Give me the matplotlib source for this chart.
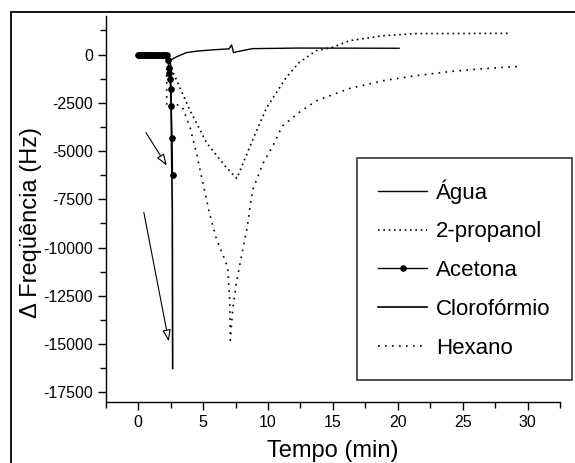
import numpy as np
import matplotlib
matplotlib.use('Agg')
import matplotlib.pyplot as plt
from matplotlib.patches import Rectangle

plt.rcParams['font.family'] = ['Liberation Sans', 'DejaVu Sans']
plt.rcParams['axes.unicode_minus'] = False

# Água
agua_t = [0, 1.0, 2.2, 2.3, 3.0, 3.7, 4.5, 5.8, 7.0, 7.2, 7.35, 7.6, 8.8, 12.4, 20.1]
agua_f = [0, 0, 0, -350, -100, 100, 180, 250, 300, 500, 100, 150, 310, 340, 330]

# 2-propanol
prop_t = [0, 2.2, 2.7, 4.0, 5.3, 6.8, 7.6, 8.8, 9.9, 11.4, 12.4, 13.7, 14.9, 16.3, 18.9, 21.4, 28.7]
prop_f = [0, 0, -930, -2900, -4600, -5850, -6420, -4450, -2750, -1190, -410, 200, 360, 725, 980, 1090, 1100]

# Acetona
acet_t = [0, 0.1, 0.2, 0.3, 0.4, 0.5, 0.6, 0.7, 0.8, 0.9, 1.0, 1.1, 1.2, 1.3, 1.4, 1.5, 1.6, 1.7,
          1.8, 1.9, 2.0, 2.1, 2.2, 2.3, 2.35, 2.4, 2.45, 2.5, 2.55, 2.6, 2.65]
acet_f = [0, 0, 0, 0, 0, 0, 0, 0, 0, 0, 0, 0, 0, 0, 0, 0, 0, 0,
          0, 0, 0, 0, 0, -300, -670, -930, -1240, -1760, -2640, -4300, -6220]

# Clorofórmio
clor_t = [0, 2.2, 2.5, 2.63, 2.66]
clor_f = [0, 0, -500, -8000, -16260]

# Hexano
hex_t = [0, 2.2, 2.2, 3.0, 3.4, 4.0, 4.5, 5.0, 5.5, 6.0, 6.6, 6.9, 7.06, 7.1, 7.3, 7.6, 8.0, 8.4,
         8.8, 9.6, 10.4, 11.1, 12.4, 13.7, 16.3, 18.9, 21.4, 24.0, 26.5, 29.2]
hex_f = [0, 0, -2700, -2600, -2700, -3780, -5130, -6680, -8240, -9480, -10500, -11040, -12750, -14800,
         -13100, -11700, -10300, -8960, -7050, -5650, -4700, -3700, -3000, -2400, -1750, -1350, -1090,
         -880, -730, -620]

# arrows (tail -> head)
arrow_tails = [(0.6, -4040), (0.44, -8180)]
arrow_heads = [(2.2, -5750), (2.36, -14860)]

fig = plt.figure(figsize=(5.75, 4.63), dpi=100)
ax = fig.add_axes([0.1838, 0.1317, 0.7902, 0.8337])

ax.plot(agua_t, agua_f, color='black', lw=1.0, label='Água')
ax.plot(prop_t, prop_f, color='black', lw=1.2, linestyle=(0, (1, 2.2)), label='2-propanol')
ax.plot(acet_t, acet_f, color='black', lw=1.0, marker='o', markersize=3.8, label='Acetona')
ax.plot(clor_t, clor_f, color='black', lw=1.2, label='Clorofórmio')
ax.plot(hex_t, hex_f, color='black', lw=1.2, linestyle=(0, (1, 3.2)), label='Hexano')

for tail, head in zip(arrow_tails, arrow_heads):
    ax.annotate('', xy=head, xytext=tail,
                arrowprops=dict(arrowstyle='-|>,head_length=0.7,head_width=0.25',
                                fc='white', ec='black', lw=0.8, shrinkA=0, shrinkB=0))

ax.set_xlim(-2.5, 32.5)
ax.set_ylim(-18000, 2000)
ax.set_xticks(np.arange(0, 31, 5))
ax.set_xticks(np.arange(-2.5, 32.6, 2.5), minor=True)
ax.set_yticks(np.arange(-17500, 1, 2500))
ax.set_yticks(np.arange(-16250, 2000, 2500), minor=True)
ax.tick_params(which='major', direction='out', length=6, width=1, labelsize=11.5, pad=3)
ax.tick_params(which='minor', direction='out', length=4, width=1)

for s in ['top', 'right']:
    ax.spines[s].set_visible(False)
for s in ['left', 'bottom']:
    ax.spines[s].set_linewidth(1.0)

ax.set_xlabel('Tempo (min)', fontsize=17)
ax.set_ylabel('Δ Freqüência (Hz)', fontsize=17)
ax.xaxis.set_label_coords(0.5, -0.098)
ax.yaxis.set_label_coords(-0.14, 0.466)

leg = ax.legend(loc='upper left', bbox_to_anchor=(357 / 575, 1 - 158 / 463),
                bbox_transform=fig.transFigure, fontsize=16, frameon=True, fancybox=False,
                handlelength=2.2, handletextpad=0.4, labelspacing=0.8, borderpad=0.95,
                borderaxespad=0)
leg.get_frame().set_edgecolor('black')
leg.get_frame().set_linewidth(1.2)

fig.patches.append(Rectangle((10.5 / 575, -0.05), 1.2, 1 - 12 / 463 + 0.05,
                             transform=fig.transFigure, fill=False, ec='black', lw=1.3))

fig.savefig('out.png', dpi=100)
